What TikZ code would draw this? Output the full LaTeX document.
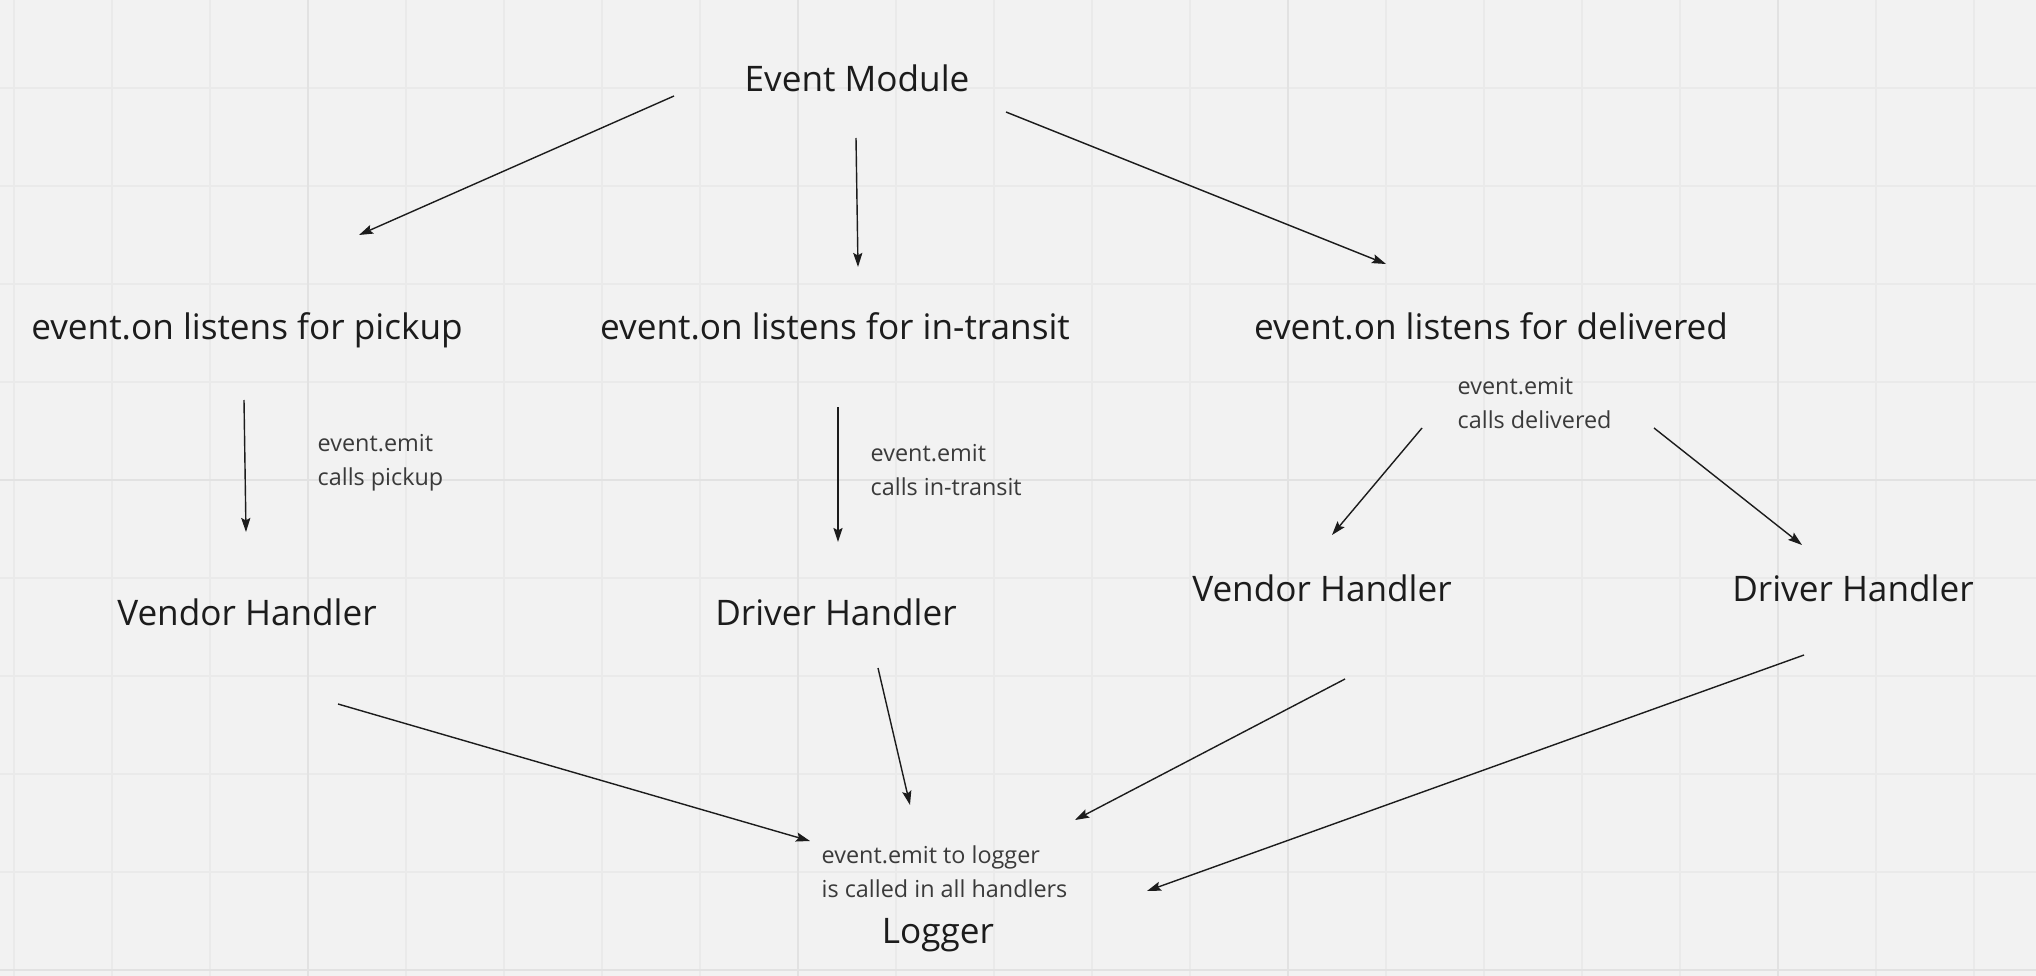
\documentclass[tikz,border=0pt]{standalone}
\usepackage{fontspec}
\setmainfont{Open Sans}
\usetikzlibrary{arrows.meta}
\definecolor{canvas}{HTML}{F2F2F2}
\definecolor{gridminor}{HTML}{EAEAEA}
\definecolor{gridmajor}{HTML}{E2E2E2}
\definecolor{ink}{HTML}{1C1C1C}
\definecolor{noteink}{HTML}{3A3A3A}
\tikzset{
  mainlbl/.style={inner sep=0pt, anchor=base, text=ink,
    font=\fontsize{10pt}{12pt}\selectfont},
  notelbl/.style={inner sep=0pt, anchor=base west, align=left, text=noteink,
    font=\fontsize{6.65pt}{9.5pt}\selectfont},
  arr/.style={-{Stealth[length=4pt,width=2.6pt,inset=0.7pt]}, line width=0.4pt, draw=ink},
  minorline/.style={draw=gridminor, line width=0.35pt},
  majorline/.style={draw=gridmajor, line width=0.5pt}
}

\begin{document}
\begin{tikzpicture}[x=0.01cm, y=-0.01cm]
    \fill[canvas] (0,0) rectangle (2036,976);
    \useasboundingbox (0,0) rectangle (2036,976);
    \foreach \gx in {14,112,...,2036} \draw[minorline] (\gx,0) -- (\gx,976);
    \foreach \gy in {88,186,...,976} \draw[minorline] (0,\gy) -- (2036,\gy);
    \foreach \gx in {308,798,1288,1778} \draw[majorline] (\gx,0) -- (\gx,976);
    \foreach \gy in {480,970} \draw[majorline] (0,\gy) -- (2036,\gy);

    \node[mainlbl] (evt) at (857,92) {Event Module};
    \node[mainlbl] (onPickup) at (247,340) {event.on listens for pickup};
    \node[mainlbl] (onTransit) at (835,340) {event.on listens for in-transit};
    \node[mainlbl] (onDeliv) at (1491,340) {event.on listens for delivered};
    \node[mainlbl] (vendorA) at (247,625) {Vendor Handler};
    \node[mainlbl] (driverA) at (836,625) {Driver Handler};
    \node[mainlbl] (vendorB) at (1322,601) {Vendor Handler};
    \node[mainlbl] (driverB) at (1853,601) {Driver Handler};
    \node[mainlbl] (logger) at (938,943) {Logger};

    \node[notelbl] (notePickup) at (317,485) {event.emit\\calls pickup};
    \node[notelbl] (noteTransit) at (870,495) {event.emit\\calls in-transit};
    \node[notelbl] (noteDeliv) at (1457,428) {event.emit\\calls delivered};
    \node[notelbl] (noteLog) at (821,897) {event.emit to logger\\is called in all handlers};

    \coordinate (evtL) at (674,96);
    \coordinate (evtM) at (856,138);
    \coordinate (evtR) at (1006,112);
    \coordinate (pickIn) at (359,235);
    \coordinate (transIn) at (858,267);
    \coordinate (delivIn) at (1386,264);
    \coordinate (pickOut) at (244,400);
    \coordinate (vendAIn) at (246,532);
    \coordinate (transOut) at (838,407);
    \coordinate (drvAIn) at (838,542);
    \coordinate (delivOutL) at (1422,428);
    \coordinate (vendBIn) at (1332,535);
    \coordinate (delivOutR) at (1654,428);
    \coordinate (drvBIn) at (1802,545);
    \coordinate (vendAOut) at (338,704);
    \coordinate (drvAOut) at (878,668);
    \coordinate (vendBOut) at (1345,679);
    \coordinate (drvBOut) at (1804,655);
    \coordinate (logInA) at (810,841);
    \coordinate (logInB) at (910,805);
    \coordinate (logInC) at (1075,820);
    \coordinate (logInD) at (1147,891);

    \draw[arr] (evtL) -- (pickIn);
    \draw[arr] (evtM) -- (transIn);
    \draw[arr] (evtR) -- (delivIn);
    \draw[arr] (pickOut) -- (vendAIn);
    \draw[arr] (transOut) -- (drvAIn);
    \draw[arr] (delivOutL) -- (vendBIn);
    \draw[arr] (delivOutR) -- (drvBIn);
    \draw[arr] (vendAOut) -- (logInA);
    \draw[arr] (drvAOut) -- (logInB);
    \draw[arr] (vendBOut) -- (logInC);
    \draw[arr] (drvBOut) -- (logInD);
  \end{tikzpicture}
\end{document}
